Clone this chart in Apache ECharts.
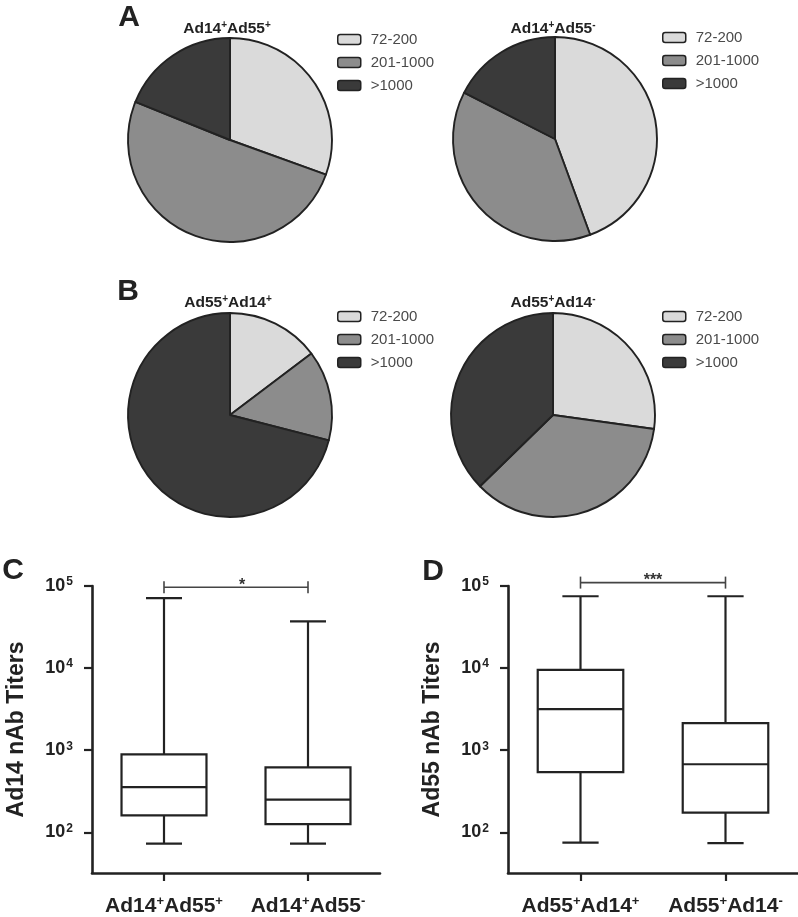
<!DOCTYPE html>
<html>
<head>
<meta charset="utf-8">
<script src="https://cdn.jsdelivr.net/npm/echarts@6/dist/echarts.min.js"></script>
<style>
html,body{margin:0;padding:0;background:#fff;}
#chart{width:798px;height:917px;}
</style>
</head>
<body>
<div id="chart"></div>
<script>
// ---------- data ----------
const pieCategories = ['72-200', '201-1000', '>1000'];
const pieA1 = [30.5, 50.6, 18.9];
const pieA2 = [44.4, 38.1, 17.5];
const pieB1 = [14.7, 14.3, 71.0];
const pieB2 = [27.2, 35.5, 37.3];
const pieTitles = ['Ad14+Ad55+', 'Ad14+Ad55-', 'Ad55+Ad14+', 'Ad55+Ad14-'];

const boxCatsC = ['Ad14+Ad55+', 'Ad14+Ad55-'];
// [min, Q1, median, Q3, max]
const boxC1 = [73, 161, 355, 890, 71000];
const boxC2 = [73, 126, 250, 620, 37000];
const boxCatsD = ['Ad55+Ad14+', 'Ad55+Ad14-'];
const boxD1 = [75, 540, 3160, 9500, 75000];
const boxD2 = [74, 174, 675, 2140, 75000];
const yTickValues = [100, 1000, 10000, 100000];
const yNameC = 'Ad14 nAb Titers';
const yNameD = 'Ad55 nAb Titers';
const sigLabels = ['*', '***'];
const sigLevels = [96700, 110000];
const panelLetters = ['A', 'B', 'C', 'D'];

// ---------- style ----------
const FONT = '"Liberation Sans", Arial, Helvetica, sans-serif';
const pieColors = ['#dadada', '#8c8c8c', '#3a3a3a'];
const INK = '#222';

function sup(s) { return s.replace(/([+\-])/g, '{sp|$1}'); }

const chart = echarts.init(document.getElementById('chart'));

function pieSeries(vals, center) {
  return {
    type: 'pie',
    center: center,
    radius: 102,
    startAngle: 90,
    clockwise: true,
    label: { show: false },
    labelLine: { show: false },
    silent: true,
    animation: false,
    itemStyle: { borderColor: INK, borderWidth: 1.9 },
    data: pieCategories.map((n, i) => ({ name: n, value: vals[i], itemStyle: { color: pieColors[i] } }))
  };
}

function legendAt(left, top) {
  return {
    orient: 'vertical', left: left, top: top, padding: 0,
    itemWidth: 23, itemHeight: 10, itemGap: 8, icon: 'roundRect',
    selectedMode: false,
    itemStyle: { borderColor: INK, borderWidth: 1.5 },
    textStyle: { fontFamily: FONT, fontSize: 15, color: '#4a4a4a', padding: [0, 0, 0, 5] },
    data: pieCategories
  };
}

function renderBox(params, api) {
  const x = api.value(0);
  const lo = api.coord([x, api.value(1)]);
  const q1 = api.coord([x, api.value(2)]);
  const md = api.coord([x, api.value(3)]);
  const q3 = api.coord([x, api.value(4)]);
  const hi = api.coord([x, api.value(5)]);
  const band = api.size([1, 0], [x, 1000])[0];
  const bw = band * 0.59, cw = band * 0.25;
  const cx = md[0];
  const st = { stroke: INK, lineWidth: 2.2, fill: null };
  return {
    type: 'group',
    children: [
      { type: 'line', shape: { x1: cx, y1: hi[1], x2: cx, y2: q3[1] }, style: st },
      { type: 'line', shape: { x1: cx, y1: q1[1], x2: cx, y2: lo[1] }, style: st },
      { type: 'line', shape: { x1: cx - cw / 2, y1: hi[1], x2: cx + cw / 2, y2: hi[1] }, style: st },
      { type: 'line', shape: { x1: cx - cw / 2, y1: lo[1], x2: cx + cw / 2, y2: lo[1] }, style: st },
      { type: 'rect', shape: { x: cx - bw / 2, y: q3[1], width: bw, height: q1[1] - q3[1] }, style: { stroke: INK, lineWidth: 2.2, fill: '#fff' } },
      { type: 'line', shape: { x1: cx - bw / 2, y1: md[1], x2: cx + bw / 2, y2: md[1] }, style: st }
    ]
  };
}

function renderBracket(idx) {
  return function (params, api) {
    const a = api.coord([api.value(0), api.value(2)]);
    const b = api.coord([api.value(1), api.value(2)]);
    const st = { stroke: '#444', lineWidth: 1.6 };
    return {
      type: 'group',
      children: [
        { type: 'line', shape: { x1: a[0], y1: a[1], x2: b[0], y2: b[1] }, style: st },
        { type: 'line', shape: { x1: a[0], y1: a[1] - 6, x2: a[0], y2: a[1] + 6 }, style: st },
        { type: 'line', shape: { x1: b[0], y1: b[1] - 6, x2: b[0], y2: b[1] + 6 }, style: st },
        { type: 'text', style: { text: sigLabels[idx], x: (a[0] + b[0]) / 2 + (idx === 0 ? 6 : 0), y: a[1] - 2, align: 'center', verticalAlign: 'middle', font: 'bold 16px ' + FONT, fill: '#333' } }
      ]
    };
  };
}

function yAxisDef(gridIndex, name) {
  return {
    type: 'log', logBase: 10, gridIndex: gridIndex, min: 32, max: 100000,
    name: name, nameLocation: 'middle', nameGap: 64, nameRotate: 90,
    nameTextStyle: { fontFamily: FONT, fontSize: 23, fontWeight: 'bold', color: INK },
    axisLine: { show: true, lineStyle: { color: INK, width: 2.6 } },
    axisTick: { show: true, length: 8, lineStyle: { color: INK, width: 2.2 }, customValues: yTickValues },
    minorTick: { show: false },
    splitLine: { show: false },
    axisLabel: {
      customValues: yTickValues, margin: 19,
      fontFamily: FONT, fontSize: 18, fontWeight: 'bold', color: INK,
      formatter: v => '10{sp|' + Math.round(Math.log10(v)) + '}',
      rich: { sp: { fontFamily: FONT, fontSize: 12, fontWeight: 'bold', color: INK, verticalAlign: 'top', padding: [0, 0, 8, 1] } }
    }
  };
}

function xAxisDef(gridIndex, cats) {
  return {
    type: 'category', gridIndex: gridIndex, data: cats,
    axisLine: { show: true, lineStyle: { color: INK, width: 2.6 } },
    axisTick: { show: true, alignWithLabel: true, length: 8, lineStyle: { color: INK, width: 2.2 } },
    splitLine: { show: false },
    axisLabel: {
      interval: 0, hideOverlap: false,
      margin: 22, fontFamily: FONT, fontSize: 21, fontWeight: 'bold', color: INK,
      formatter: v => sup(v),
      rich: { sp: { fontFamily: FONT, fontSize: 13, fontWeight: 'bold', color: INK, verticalAlign: 'top', padding: [0, 0, 10, 0] } }
    }
  };
}

function textEl(x, y, text, size, rich) {
  return {
    type: 'text', x: x, y: y,
    style: {
      text: text, align: 'center', verticalAlign: 'middle',
      font: 'bold ' + size + 'px ' + FONT, fill: INK,
      rich: rich
    }
  };
}
const titleRich = { sp: { fontFamily: FONT, fontSize: 10, fontWeight: 'bold', fill: INK, verticalAlign: 'top', padding: [0, 0, 7, 0] } };

const option = {
  animation: false,
  backgroundColor: '#fff',
  legend: [legendAt(337, 32), legendAt(662, 30), legendAt(337, 309), legendAt(662, 309)],
  grid: [
    { left: 92, right: 418, top: 586, bottom: 44 },
    { left: 508, right: 0, top: 586, bottom: 43 }
  ],
  xAxis: [xAxisDef(0, boxCatsC), xAxisDef(1, boxCatsD)],
  yAxis: [yAxisDef(0, yNameC), yAxisDef(1, yNameD)],
  series: [
    pieSeries(pieA1, [230, 140]),
    pieSeries(pieA2, [555, 139]),
    pieSeries(pieB1, [230, 415]),
    pieSeries(pieB2, [553, 415]),
    { type: 'custom', xAxisIndex: 0, yAxisIndex: 0, renderItem: renderBox, encode: { x: 0, y: [1, 2, 3, 4, 5] }, silent: true,
      data: [[0].concat(boxC1), [1].concat(boxC2)] },
    { type: 'custom', xAxisIndex: 1, yAxisIndex: 1, renderItem: renderBox, encode: { x: 0, y: [1, 2, 3, 4, 5] }, silent: true,
      data: [[0].concat(boxD1), [1].concat(boxD2)] },
    { type: 'custom', xAxisIndex: 0, yAxisIndex: 0, renderItem: renderBracket(0), encode: { x: [0, 1], y: 2 }, silent: true, clip: false,
      data: [[0, 1, sigLevels[0]]] },
    { type: 'custom', xAxisIndex: 1, yAxisIndex: 1, renderItem: renderBracket(1), encode: { x: [0, 1], y: 2 }, silent: true, clip: false,
      data: [[0, 1, sigLevels[1]]] }
  ],
  graphic: [
    textEl(129, 18, panelLetters[0], 30),
    textEl(128, 292, panelLetters[1], 30),
    textEl(13, 571, panelLetters[2], 30),
    textEl(433, 572, panelLetters[3], 30),
    textEl(227, 29, sup(pieTitles[0]), 15.5, titleRich),
    textEl(553, 29, sup(pieTitles[1]), 15.5, titleRich),
    textEl(228, 303, sup(pieTitles[2]), 15.5, titleRich),
    textEl(553, 303, sup(pieTitles[3]), 15.5, titleRich)
  ]
};
chart.setOption(option);
</script>
</body>
</html>
